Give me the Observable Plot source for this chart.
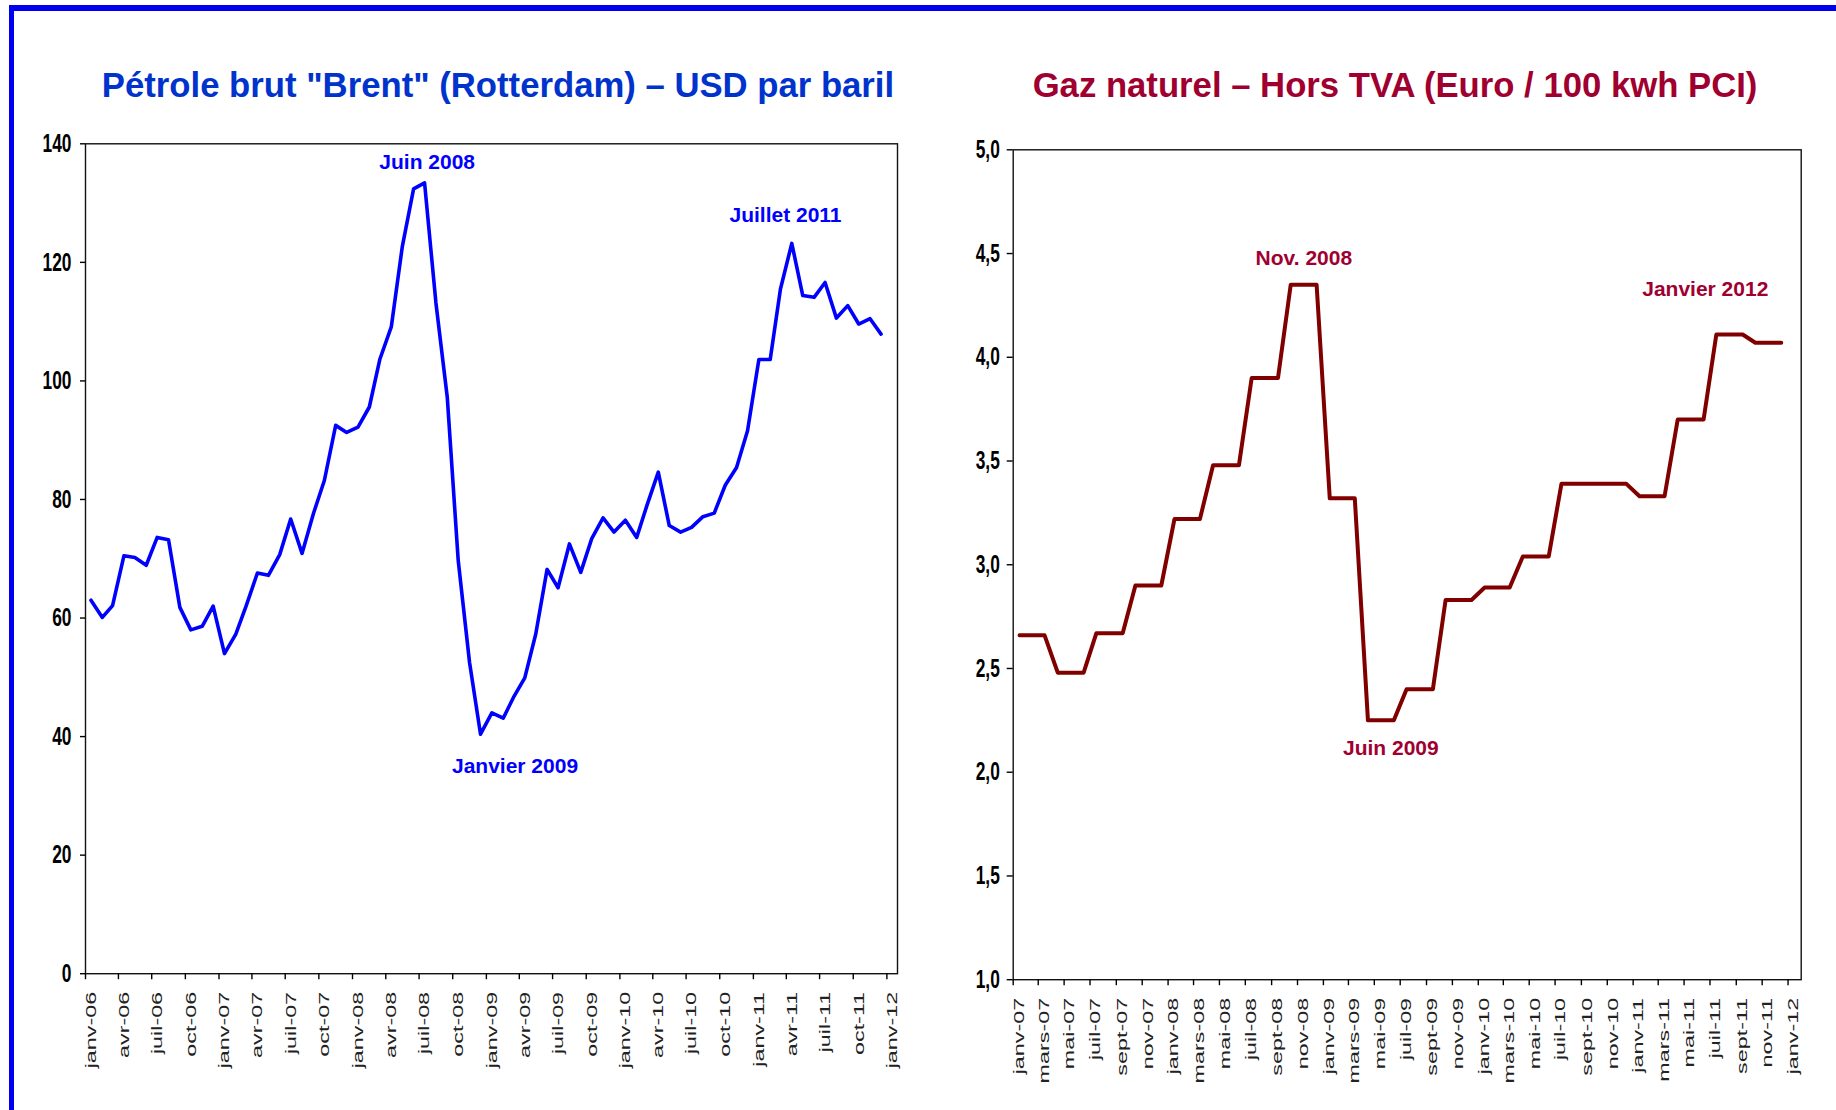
<!DOCTYPE html>
<html>
<head>
<meta charset="utf-8">
<script src="https://cdn.jsdelivr.net/npm/d3@7"></script>
<script src="https://cdn.jsdelivr.net/npm/@observablehq/plot@0.6"></script>
<style>
html, body { margin: 0; padding: 0; background: #fff; }
#page { position: relative; width: 1836px; height: 1110px; overflow: hidden; background: #fff;
        font-family: "Liberation Sans", Arial, sans-serif; }
.bar-top { position: absolute; left: 9px; top: 5px; width: 1827px; height: 6px; background: #0000f0; }
.bar-left { position: absolute; left: 9px; top: 5px; width: 5px; height: 1105px; background: #0000f0; }
.title { position: absolute; top: 68px; font-weight: bold; font-size: 34.7px; line-height: 34.7px;
         text-align: center; white-space: nowrap; }
#t1 { left: 0; width: 996px; color: #0033cc; }
#t2 { left: 954px; width: 882px; color: #a00030; }
.chart { position: absolute; top: 110px; }
#c1 { left: 0; }
#c2 { left: 918px; }
</style>
</head>
<body>
<div id="page">
  <div class="bar-top"></div>
  <div class="bar-left"></div>
  <div class="title" id="t1">Pétrole brut "Brent" (Rotterdam) – USD par baril</div>
  <div class="title" id="t2">Gaz naturel – Hors TVA (Euro / 100 kwh PCI)</div>
  <div class="chart" id="c1"></div>
  <div class="chart" id="c2"></div>
</div>
<script>
// ---------------- DATA ----------------
const brentMonths = [
  "2006-01","2006-02","2006-03","2006-04","2006-05","2006-06","2006-07","2006-08","2006-09","2006-10","2006-11","2006-12",
  "2007-01","2007-02","2007-03","2007-04","2007-05","2007-06","2007-07","2007-08","2007-09","2007-10","2007-11","2007-12",
  "2008-01","2008-02","2008-03","2008-04","2008-05","2008-06","2008-07","2008-08","2008-09","2008-10","2008-11","2008-12",
  "2009-01","2009-02","2009-03","2009-04","2009-05","2009-06","2009-07","2009-08","2009-09","2009-10","2009-11","2009-12",
  "2010-01","2010-02","2010-03","2010-04","2010-05","2010-06","2010-07","2010-08","2010-09","2010-10","2010-11","2010-12",
  "2011-01","2011-02","2011-03","2011-04","2011-05","2011-06","2011-07","2011-08","2011-09","2011-10","2011-11","2011-12"
];
const brentValues = [
  63.0, 60.1, 62.1, 70.5, 70.2, 68.9, 73.6, 73.2, 61.8, 58.0, 58.6, 62.0,
  54.0, 57.3, 62.0, 67.6, 67.2, 70.7, 76.7, 70.9, 77.6, 83.2, 92.5, 91.3,
  92.2, 95.6, 103.7, 109.1, 122.6, 132.4, 133.4, 113.2, 97.3, 69.7, 52.5, 40.4,
  44.0, 43.1, 46.6, 49.9, 57.3, 68.2, 65.1, 72.5, 67.7, 73.4, 76.9, 74.5,
  76.5, 73.6, 79.0, 84.6, 75.6, 74.5, 75.3, 77.1, 77.7, 82.4, 85.4, 91.6,
  103.6, 103.6, 115.5, 123.2, 114.4, 114.1, 116.6, 110.6, 112.7, 109.6, 110.5, 107.9
];
const brentTickLabels = [
  "janv-06","avr-06","juil-06","oct-06","janv-07","avr-07","juil-07","oct-07",
  "janv-08","avr-08","juil-08","oct-08","janv-09","avr-09","juil-09","oct-09",
  "janv-10","avr-10","juil-10","oct-10","janv-11","avr-11","juil-11","oct-11","janv-12"
];
const brentYTicks = [0, 20, 40, 60, 80, 100, 120, 140];
const brentNoteLabels = ["Juin 2008", "Janvier 2009", "Juillet 2011"];
const brentNoteMonths = ["2008-07", "2008-12", "2011-04"];

const gasMonths = [
  "2007-01","2007-02","2007-03","2007-04","2007-05","2007-06","2007-07","2007-08","2007-09","2007-10","2007-11","2007-12",
  "2008-01","2008-02","2008-03","2008-04","2008-05","2008-06","2008-07","2008-08","2008-09","2008-10","2008-11","2008-12",
  "2009-01","2009-02","2009-03","2009-04","2009-05","2009-06","2009-07","2009-08","2009-09","2009-10","2009-11","2009-12",
  "2010-01","2010-02","2010-03","2010-04","2010-05","2010-06","2010-07","2010-08","2010-09","2010-10","2010-11","2010-12",
  "2011-01","2011-02","2011-03","2011-04","2011-05","2011-06","2011-07","2011-08","2011-09","2011-10","2011-11","2011-12"
];
const gasValues = [
  2.66, 2.66, 2.66, 2.48, 2.48, 2.48, 2.67, 2.67, 2.67, 2.90, 2.90, 2.90,
  3.22, 3.22, 3.22, 3.48, 3.48, 3.48, 3.90, 3.90, 3.90, 4.35, 4.35, 4.35,
  3.32, 3.32, 3.32, 2.25, 2.25, 2.25, 2.40, 2.40, 2.40, 2.83, 2.83, 2.83,
  2.89, 2.89, 2.89, 3.04, 3.04, 3.04, 3.39, 3.39, 3.39, 3.39, 3.39, 3.39,
  3.33, 3.33, 3.33, 3.70, 3.70, 3.70, 4.11, 4.11, 4.11, 4.07, 4.07, 4.07
];
const gasTickLabels = [
  "janv-07","mars-07","mai-07","juil-07","sept-07","nov-07",
  "janv-08","mars-08","mai-08","juil-08","sept-08","nov-08",
  "janv-09","mars-09","mai-09","juil-09","sept-09","nov-09",
  "janv-10","mars-10","mai-10","juil-10","sept-10","nov-10",
  "janv-11","mars-11","mai-11","juil-11","sept-11","nov-11","janv-12"
];
const gasYTicks = [1.0, 1.5, 2.0, 2.5, 3.0, 3.5, 4.0, 4.5, 5.0];
const gasNoteLabels = ["Nov. 2008", "Juin 2009", "Janvier 2012"];
const gasNoteMonths = ["2008-11", "2009-06", "2011-12"];

// ---------------- HELPERS ----------------
const frMonth = {"janv":0,"févr":1,"mars":2,"avr":3,"mai":4,"juin":5,"juil":6,"août":7,"sept":8,"oct":9,"nov":10,"déc":11};
const tickDate = s => { const [m, y] = s.split("-"); return new Date(Date.UTC(2000 + +y, frMonth[m], 1)); };
const monthMid = s => { const [y, m] = s.split("-"); return new Date(Date.UTC(+y, +m - 1, 16)); };

// compress / stretch glyphs along the text direction without touching positions
function squeeze(svg, label, sx) {
  svg.querySelectorAll(`g[aria-label="${label}"] text`).forEach(t => {
    const w = t.getComputedTextLength();
    if (w > 0) {
      t.setAttribute("textLength", (w * sx).toFixed(2));
      t.setAttribute("lengthAdjust", "spacingAndGlyphs");
    }
  });
}

const FONT = "Liberation Sans, Arial, sans-serif";

function buildChart(cfg) {
  const data = cfg.months.map((m, i) => ({date: monthMid(m), value: cfg.values[i]}));
  const ticks = cfg.tickLabels.map(tickDate);
  const tickMap = new Map(ticks.map((d, i) => [+d, cfg.tickLabels[i]]));
  const notes = cfg.noteLabels.map((t, i) => ({
    text: t, date: monthMid(cfg.noteMonths[i]), value: cfg.values[cfg.months.indexOf(cfg.noteMonths[i])]
  }));
  return Plot.plot({
    width: cfg.width, height: 1000,
    marginLeft: cfg.margins[0], marginRight: cfg.margins[1], marginTop: cfg.margins[2], marginBottom: cfg.margins[3],
    x: {type: "utc", domain: cfg.xDomain},
    y: {domain: cfg.yDomain},
    style: {fontFamily: FONT, background: "transparent", overflow: "visible", color: "#000"},
    marks: [
      Plot.frame({stroke: "#111", strokeWidth: 1.4}),
      Plot.axisY(cfg.yTicks, {tickSize: cfg.yTickSize, tickPadding: cfg.yTickPadding, fontSize: 25.5, fontWeight: "bold",
        fill: "#000", stroke: "#000", strokeWidth: 1.4, label: null, tickFormat: cfg.yFormat}),
      Plot.axisX(ticks, {tickSize: 6, fill: "none", stroke: "#000", strokeWidth: 1.4, label: null}),
      Plot.axisX(ticks, {tickSize: 0, tickPadding: 18.2, tickRotate: -90, fontSize: 14.4, fill: "#222", dx: 5.7,
        label: null, tickFormat: d => tickMap.get(+d)}),
      Plot.line(data, {x: "date", y: "value", stroke: cfg.color, strokeWidth: cfg.strokeWidth,
        strokeLinejoin: "round", strokeLinecap: "round"}),
      ...notes.map((n, k) => Plot.text([n], {x: "date", y: "value", text: "text",
        dx: cfg.noteOffsets[k][0], dy: cfg.noteOffsets[k][1],
        fill: cfg.noteColor, fontSize: 21, fontWeight: "bold", fontFamily: FONT}))
    ]
  });
}

const svg1 = buildChart({
  months: brentMonths, values: brentValues, tickLabels: brentTickLabels,
  yTicks: brentYTicks, yDomain: [0, 140], yFormat: d => String(d),
  xDomain: [new Date(Date.UTC(2006, 0, 1)), new Date(Date.UTC(2012, 0, 30))],
  width: 918, margins: [85, 21, 33.3, 136.8],
  yTickSize: 5, yTickPadding: 9,
  color: "#0000ff", strokeWidth: 3.6,
  noteLabels: brentNoteLabels, noteMonths: brentNoteMonths, noteColor: "#0000ff",
  noteOffsets: [[2.6, -20.7], [34.5, 32], [-6.3, -28.2]]
});
document.getElementById("c1").appendChild(svg1);

const svg2 = buildChart({
  months: gasMonths, values: gasValues, tickLabels: gasTickLabels,
  yTicks: gasYTicks, yDomain: [1, 5], yFormat: d => d.toFixed(1).replace(".", ","),
  xDomain: [new Date(Date.UTC(2007, 0, 1)), new Date(Date.UTC(2012, 1, 1))],
  width: 918, margins: [94.7, 35.3, 39.3, 130.8],
  yTickSize: 6, yTickPadding: 7.4,
  color: "#800000", strokeWidth: 4,
  noteLabels: gasNoteLabels, noteMonths: gasNoteMonths, noteColor: "#a00030",
  noteOffsets: [[0, -26.6], [-3, 28], [-76, -53]]
});
document.getElementById("c2").appendChild(svg2);

for (const s of [svg1, svg2]) {
  squeeze(s, "y-axis tick label", 0.68);
  squeeze(s, "x-axis tick label", 1.62);
}
</script>
</body>
</html>
